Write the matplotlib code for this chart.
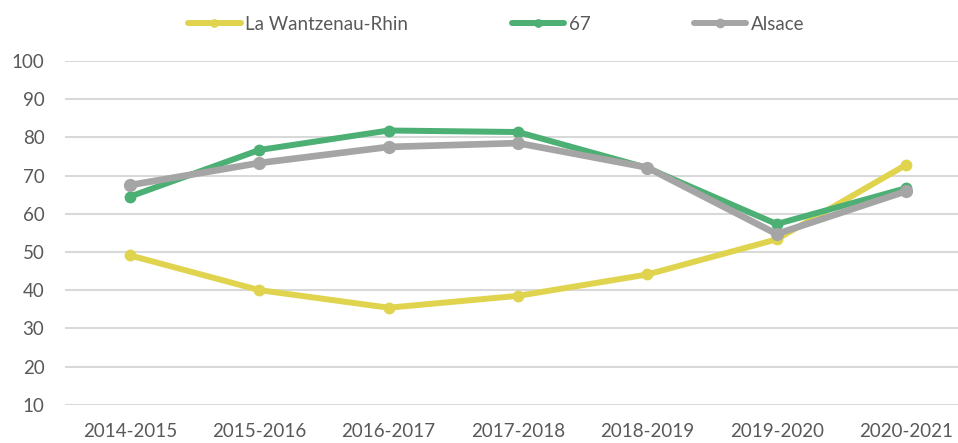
import matplotlib
matplotlib.use("Agg")
import matplotlib.pyplot as plt

categories = ["2014-2015", "2015-2016", "2016-2017", "2017-2018", "2018-2019", "2019-2020", "2020-2021"]
wantzenau = [49.1, 40.0, 35.4, 38.5, 44.1, 53.3, 72.8]
bas_rhin = [64.5, 76.7, 81.8, 81.4, 72.0, 57.3, 66.7]
alsace = [67.5, 73.3, 77.5, 78.5, 72.1, 54.7, 65.9]
series_names = ["La Wantzenau-Rhin", "67", "Alsace"]
yticks = [10, 20, 30, 40, 50, 60, 70, 80, 90, 100]

plt.rcParams['font.family'] = ['Lato', 'DejaVu Sans']
fig = plt.figure(figsize=(9.58, 4.43), dpi=100)
ax = fig.add_axes([65.3/958, (443-404.7)/443, (970.7-65.3)/958, (404.7-61)/443])

x = list(range(len(categories)))
colors = ["#E0D44F", "#4CAF73", "#A5A5A5"]
data = [wantzenau, bas_rhin, alsace]
lws = [4.3, 4.3, 4.8]
mss = [7.5, 7.5, 8.5]
handles = []
for i in range(3):
    h, = ax.plot(x, data[i], color=colors[i], lw=lws[i], marker='o', ms=mss[i],
                 solid_capstyle='round', solid_joinstyle='round', label=series_names[i], zorder=3+i)
    handles.append(h)

ax.set_xlim(-0.5, len(categories) - 0.5)
ax.set_ylim(10, 100)
ax.set_yticks(yticks)
ax.set_xticks(x)
ax.set_xticklabels(categories)
ax.grid(axis='y', color='#D9D9D9', lw=1.5, zorder=0)
ax.tick_params(axis='both', length=0, labelsize=13.5, labelcolor='#595959')
ax.tick_params(axis='y', pad=15)
ax.tick_params(axis='x', pad=13)
for s in ax.spines.values():
    s.set_visible(False)

leg = fig.legend(handles=handles, labels=series_names, loc='center', bbox_to_anchor=(0.518, (443-24)/443),
                 ncol=3, frameon=False, fontsize=13.5, handlelength=2.8, columnspacing=5.5,
                 handletextpad=0.25, markerscale=0.7, labelcolor='#595959')
for lh in leg.get_lines():
    lh.set_linewidth(4.3)

fig.savefig("out.png", dpi=100)
